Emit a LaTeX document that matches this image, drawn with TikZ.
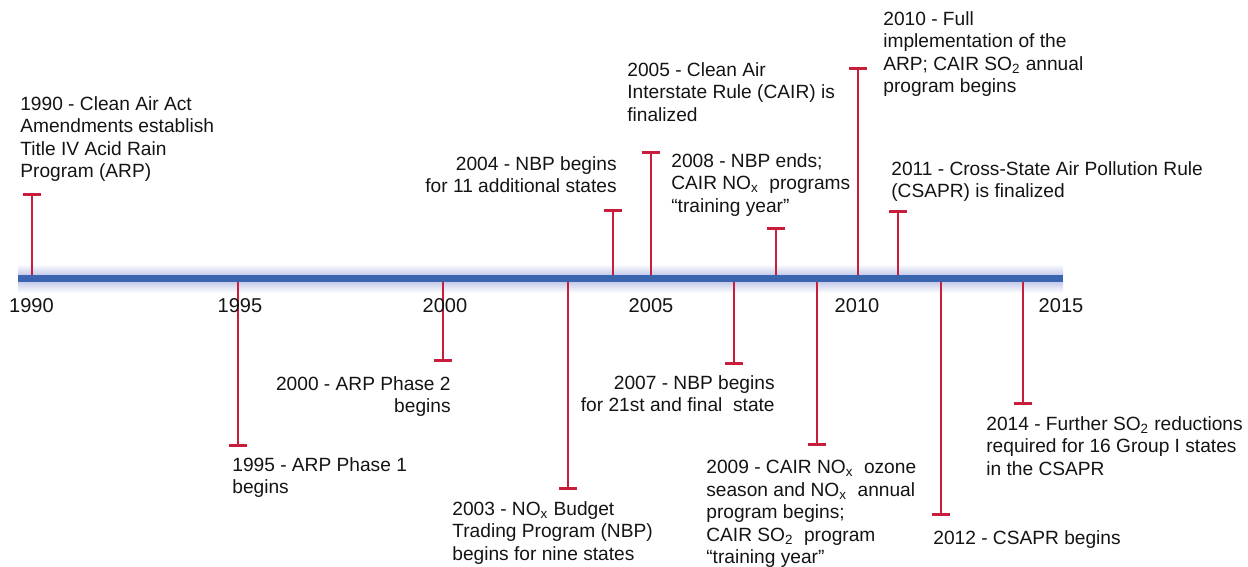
\documentclass[tikz,border=0pt]{standalone}
\usepackage{fontspec}
\setmainfont{Liberation Sans}
\usepackage{xcolor}
\usepackage{tikz}
\usetikzlibrary{arrows.meta, positioning, calc}
\definecolor{BarBlue}  {RGB}{58, 100, 176}
\definecolor{GlowLilac}{RGB}{196,202,234}
\definecolor{StemRed}  {RGB}{200, 30,  60}
\definecolor{InkBlack} {RGB}{20,  20,  20}

\begin{document}
\begin{tikzpicture}[x=0.02cm,y=-0.02cm,
    stem/.style={StemRed,line width=1.15pt,-{Bar[width=0.36cm,line width=1.7pt]}},
    evt/.style={inner sep=0pt,text=InkBlack,font=\fontsize{10.9}{12.8}\selectfont},
    yr/.style={inner sep=0pt,text=InkBlack,font=\fontsize{11.4}{13.5}\selectfont,anchor=base}]
      \useasboundingbox (0,0) rectangle (1248,567);
      % axis and its soft glow
      \coordinate (bl) at (18,278.3);
      \coordinate (br) at (1063,278.3);
      \shade[top color=white,bottom color=GlowLilac] (18,264) rectangle (1063,275);
      \shade[top color=GlowLilac,bottom color=white] (18,281.6) rectangle (1063,293);
      % stems: year / x / end
      \foreach \yr/\xx/\yy in {1990/32/193, 1995/238/447, 2000/443/362, 2003/568/490,
                               2004/613/209, 2005/651/151, 2007/734/365, 2008/776/227,
                               2009/817/446, 2010/858/67, 2011/898/210, 2012/941/516,
                               2014/1023/405}{
        \coordinate (b\yr) at (\xx,278.3);
        \coordinate (t\yr) at (\xx,\yy);
        \draw[stem] (b\yr) -- (t\yr);
      }
      \draw[BarBlue,line width=0.134cm] (bl) -- (br);
      % year ticks
      \node[yr] (y1990) at (31.5,313) {1990};
      \node[yr] (y1995) at (240,313) {1995};
      \node[yr] (y2000) at (445,313) {2000};
      \node[yr] (y2005) at (651,313) {2005};
      \node[yr] (y2010) at (857,313) {2010};
      \node[yr] (y2015) at (1061,313) {2015};
      % events above
      \node[evt,anchor=north west,align=left] (e1990) at (20,96) {1990 - Clean Air Act\\Amendments establish\\Title IV Acid Rain\\Program (ARP)};
      \node[evt,anchor=north east,align=right] (e2004) at (617,156) {2004 - NBP begins\\for 11 additional states};
      \node[evt,anchor=north west,align=left] (e2005) at (627,62) {2005 - Clean Air\\Interstate Rule (CAIR) is\\finalized};
      \node[evt,anchor=north west,align=left] (e2008) at (671,153) {2008 - NBP ends;\\CAIR NO\textsubscript{x}~ programs\\“training year”};
      \node[evt,anchor=north west,align=left] (e2010) at (883,11) {2010 - Full\\implementation of the\\ARP; CAIR SO\textsubscript{2} annual\\program begins};
      \node[evt,anchor=north west,align=left] (e2011) at (891,161) {2011 - Cross-State Air Pollution Rule\\(CSAPR) is finalized};
      % events below
      \node[evt,anchor=north west,align=left] (e1995) at (232,457) {1995 - ARP Phase 1\\begins};
      \node[evt,anchor=north east,align=right] (e2000) at (451,376) {2000 - ARP Phase 2\\begins};
      \node[evt,anchor=north west,align=left] (e2003) at (452,501) {2003 - NO\textsubscript{x} Budget\\Trading Program (NBP)\\begins for nine states};
      \node[evt,anchor=north east,align=right] (e2007) at (775,375) {2007 - NBP begins\\for 21st and final~ state};
      \node[evt,anchor=north west,align=left] (e2009) at (706,460) {2009 - CAIR NO\textsubscript{x}~ ozone\\season and NO\textsubscript{x}~ annual\\program begins;\\CAIR SO\textsubscript{2}~ program\\“training year”};
      \node[evt,anchor=north west,align=left] (e2012) at (933,530) {2012 - CSAPR begins};
      \node[evt,anchor=north west,align=left] (e2014) at (986,416) {2014 - Further SO\textsubscript{2} reductions\\required for 16 Group I states\\in the CSAPR};
    \end{tikzpicture}
\end{document}
